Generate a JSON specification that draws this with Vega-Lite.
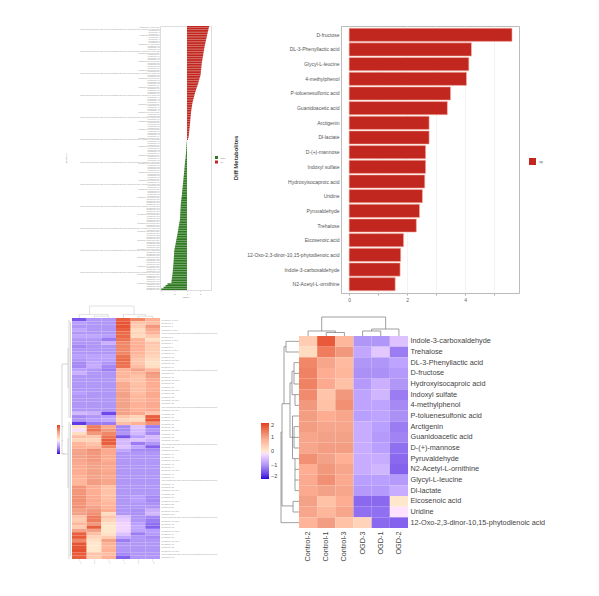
{
"$schema":"https://vega.github.io/schema/vega-lite/v6.json",
"padding":{"left":44,"top":24,"right":0,"bottom":0},
"background":"white",
"config":{"view":{"stroke":null},"font":"Liberation Sans"},
"bounds":"flush",
"spacing":0,
"resolve":{"scale":{"color":"independent"},"legend":{"color":"independent"}},
"datasets":{"blank":[{"k":1}]},
"vconcat":[
{"bounds":"flush","spacing":0,"resolve":{"scale":{"color":"independent"},"legend":{"color":"independent"}},"hconcat":[
 {"width":116,"height":1,"data":{"name":"blank"},"mark":{"type":"point","opacity":0,"size":0}},
 {"width":51,"height":264,
  "title":{"text":"Diff Metabolites","orient":"right","angle":270,"fontSize":6,"fontWeight":"bold","color":"#333","offset":1},
  "view":{"stroke":"#ddd"},
  "data":{"values":[
{"m":0,"g":"up","v":3.38},{"m":1,"g":"up","v":3.32},{"m":2,"g":"up","v":3.27},{"m":3,"g":"up","v":3.2},{"m":4,"g":"up","v":3.15},{"m":5,"g":"up","v":3.08},{"m":6,"g":"up","v":3.03},{"m":7,"g":"up","v":2.97},{"m":8,"g":"up","v":2.91},{"m":9,"g":"up","v":2.85},{"m":10,"g":"up","v":2.8},{"m":11,"g":"up","v":2.74},{"m":12,"g":"up","v":2.69},{"m":13,"g":"up","v":2.64},{"m":14,"g":"up","v":2.6},{"m":15,"g":"up","v":2.55},{"m":16,"g":"up","v":2.51},{"m":17,"g":"up","v":2.47},{"m":18,"g":"up","v":2.42},{"m":19,"g":"up","v":2.38},{"m":20,"g":"up","v":2.33},{"m":21,"g":"up","v":2.29},{"m":22,"g":"up","v":2.25},{"m":23,"g":"up","v":2.23},{"m":24,"g":"up","v":2.2},{"m":25,"g":"up","v":2.17},{"m":26,"g":"up","v":2.14},{"m":27,"g":"up","v":2.12},{"m":28,"g":"up","v":2.1},{"m":29,"g":"up","v":2.03},{"m":30,"g":"up","v":1.95},{"m":31,"g":"up","v":1.88},{"m":32,"g":"up","v":1.8},{"m":33,"g":"up","v":1.74},{"m":34,"g":"up","v":1.65},{"m":35,"g":"up","v":1.56},{"m":36,"g":"up","v":1.47},{"m":37,"g":"up","v":1.38},{"m":38,"g":"up","v":1.3},{"m":39,"g":"up","v":1.23},{"m":40,"g":"up","v":1.15},{"m":41,"g":"up","v":1.08},{"m":42,"g":"up","v":1.01},{"m":43,"g":"up","v":0.95},{"m":44,"g":"up","v":0.88},{"m":45,"g":"up","v":0.82},{"m":46,"g":"up","v":0.78},{"m":47,"g":"up","v":0.74},{"m":48,"g":"up","v":0.7},{"m":49,"g":"up","v":0.66},{"m":50,"g":"up","v":0.63},{"m":51,"g":"up","v":0.6},{"m":52,"g":"up","v":0.58},{"m":53,"g":"up","v":0.55},{"m":54,"g":"up","v":0.53},{"m":55,"g":"up","v":0.5},{"m":56,"g":"up","v":0.48},{"m":57,"g":"up","v":0.46},{"m":58,"g":"up","v":0.43},{"m":59,"g":"up","v":0.41},{"m":60,"g":"up","v":0.38},{"m":61,"g":"up","v":0.35},{"m":62,"g":"up","v":0.33},{"m":63,"g":"up","v":0.3},{"m":64,"g":"up","v":0.27},{"m":65,"g":"up","v":0.22},{"m":66,"g":"up","v":0.15},
{"m":67,"g":"down","v":-0.03},{"m":68,"g":"down","v":-0.05},{"m":69,"g":"down","v":-0.07},{"m":70,"g":"down","v":-0.09},{"m":71,"g":"down","v":-0.11},{"m":72,"g":"down","v":-0.13},{"m":73,"g":"down","v":-0.14},{"m":74,"g":"down","v":-0.15},{"m":75,"g":"down","v":-0.18},{"m":76,"g":"down","v":-0.2},{"m":77,"g":"down","v":-0.23},{"m":78,"g":"down","v":-0.26},{"m":79,"g":"down","v":-0.29},{"m":80,"g":"down","v":-0.32},{"m":81,"g":"down","v":-0.34},{"m":82,"g":"down","v":-0.36},{"m":83,"g":"down","v":-0.39},{"m":84,"g":"down","v":-0.41},{"m":85,"g":"down","v":-0.44},{"m":86,"g":"down","v":-0.46},{"m":87,"g":"down","v":-0.49},{"m":88,"g":"down","v":-0.51},{"m":89,"g":"down","v":-0.54},{"m":90,"g":"down","v":-0.56},{"m":91,"g":"down","v":-0.59},{"m":92,"g":"down","v":-0.62},{"m":93,"g":"down","v":-0.64},{"m":94,"g":"down","v":-0.67},{"m":95,"g":"down","v":-0.7},{"m":96,"g":"down","v":-0.73},{"m":97,"g":"down","v":-0.75},{"m":98,"g":"down","v":-0.77},{"m":99,"g":"down","v":-0.8},{"m":100,"g":"down","v":-0.83},{"m":101,"g":"down","v":-0.86},{"m":102,"g":"down","v":-0.89},{"m":103,"g":"down","v":-0.92},{"m":104,"g":"down","v":-0.95},{"m":105,"g":"down","v":-0.97},{"m":106,"g":"down","v":-0.98},{"m":107,"g":"down","v":-1},{"m":108,"g":"down","v":-1.01},{"m":109,"g":"down","v":-1.03},{"m":110,"g":"down","v":-1.04},{"m":111,"g":"down","v":-1.05},{"m":112,"g":"down","v":-1.07},{"m":113,"g":"down","v":-1.08},{"m":114,"g":"down","v":-1.13},{"m":115,"g":"down","v":-1.18},{"m":116,"g":"down","v":-1.22},{"m":117,"g":"down","v":-1.27},{"m":118,"g":"down","v":-1.31},{"m":119,"g":"down","v":-1.35},{"m":120,"g":"down","v":-1.4},{"m":121,"g":"down","v":-1.44},{"m":122,"g":"down","v":-1.49},{"m":123,"g":"down","v":-1.54},{"m":124,"g":"down","v":-1.59},{"m":125,"g":"down","v":-1.64},{"m":126,"g":"down","v":-1.69},{"m":127,"g":"down","v":-1.74},{"m":128,"g":"down","v":-1.79},{"m":129,"g":"down","v":-1.85},{"m":130,"g":"down","v":-1.9},{"m":131,"g":"down","v":-1.95},{"m":132,"g":"down","v":-1.97},{"m":133,"g":"down","v":-1.98},{"m":134,"g":"down","v":-2},{"m":135,"g":"down","v":-2.02},{"m":136,"g":"down","v":-2.03},{"m":137,"g":"down","v":-2.05},{"m":138,"g":"down","v":-2.07},{"m":139,"g":"down","v":-2.09},{"m":140,"g":"down","v":-2.11},{"m":141,"g":"down","v":-2.13},{"m":142,"g":"down","v":-2.15},{"m":143,"g":"down","v":-2.18},{"m":144,"g":"down","v":-2.2},{"m":145,"g":"down","v":-2.23},{"m":146,"g":"down","v":-2.27},{"m":147,"g":"down","v":-2.3},{"m":148,"g":"down","v":-2.34},{"m":149,"g":"down","v":-2.37},{"m":150,"g":"down","v":-2.4},{"m":151,"g":"down","v":-3},{"m":152,"g":"down","v":-3.3},{"m":153,"g":"down","v":-3.6},{"m":154,"g":"down","v":-3.95}
  ]},
  "mark":{"type":"bar"},
  "encoding":{
   "y":{"field":"m","type":"ordinal","scale":{"paddingInner":0.08,"paddingOuter":0},
    "axis":{"title":"metabolites","titleFontSize":2,"titleFontWeight":"normal","titleColor":"#777","titleX":-94,"titleY":132,"labelFontSize":2,"labelColor":"#999","labelPadding":1,"ticks":false,"domain":false,"labelOverlap":false,"labelLimit":200,
     "labelExpr":"datum.value % 13 == 1 ? 'long compound name with several substituents and a second hydroxy-carboxylic acid part' : datum.value % 5 == 0 ? 'metabolite ' + datum.value + ' acid ester' : 'metabolite ' + datum.value"}},
   "x":{"field":"v","type":"quantitative","scale":{"domain":[-4.15,3.69],"nice":false,"zero":false},
    "axis":{"title":"log2FC","titleFontSize":2,"titleFontWeight":"normal","titleColor":"#777","titlePadding":1,"values":[-4,-2,0,2],"labelFontSize":2,"labelColor":"#777","tickSize":1.5,"tickColor":"#ccc","tickWidth":0.5,"labelPadding":1,"domain":false,"grid":false}},
   "color":{"field":"g","type":"nominal","scale":{"domain":["down","up"],"range":["#2f7a21","#c1271f"]},
    "legend":{"title":null,"orient":"none","legendX":54,"legendY":129,"symbolType":"square","symbolSize":9,"labelFontSize":2,"labelColor":"#777","labelOffset":1.5,"rowPadding":0.5}}
  }
 },
 {"width":130,"height":1,"data":{"name":"blank"},"mark":{"type":"point","opacity":0,"size":0}},
 {"width":178,"height":267,
  "view":{"stroke":"#bbb","strokeWidth":1},
  "data":{"values":[
{"n":"D-fructose","g":"up","v":5.62},{"n":"DL-3-Phenyllactic acid","g":"up","v":4.22},{"n":"Glycyl-L-leucine","g":"up","v":4.13},{"n":"4-methylphenol","g":"up","v":4.05},{"n":"P-toluenesulfonic acid","g":"up","v":3.5},{"n":"Guanidoacetic acid","g":"up","v":3.39},{"n":"Arctigenin","g":"up","v":2.76},{"n":"Dl-lactate","g":"up","v":2.76},{"n":"D-(+)-mannose","g":"up","v":2.64},{"n":"Indoxyl sulfate","g":"up","v":2.64},{"n":"Hydroxyisocaproic acid","g":"up","v":2.61},{"n":"Uridine","g":"up","v":2.53},{"n":"Pyruvaldehyde","g":"up","v":2.43},{"n":"Trehalose","g":"up","v":2.32},{"n":"Eicosenoic acid","g":"up","v":1.88},{"n":"12-Oxo-2,3-dinor-10,15-phytodienoic acid","g":"up","v":1.78},{"n":"Indole-3-carboxaldehyde","g":"up","v":1.76},{"n":"N2-Acetyl-L-ornithine","g":"up","v":1.59}
  ]},
  "mark":{"type":"bar","stroke":"#f6b9ac","strokeWidth":0.6},
  "encoding":{
   "y":{"field":"n","type":"nominal","sort":null,"scale":{"paddingInner":0.1,"paddingOuter":0.15},
    "axis":{"title":null,"labelFontSize":5,"labelColor":"#555","ticks":false,"domain":false,"labelPadding":2,"labelLimit":200}},
   "x":{"field":"v","type":"quantitative","scale":{"domain":[-0.28,5.86],"nice":false,"zero":false},
    "axis":{"title":null,"values":[0,1,2,3,4,5],"labelExpr":"datum.value % 2 == 0 ? datum.label : ''","labelFontSize":5,"labelColor":"#666","tickSize":2,"tickColor":"#aaa","labelPadding":2,"domain":false,"grid":true,"gridColor":"#f3f3f3"}},
   "color":{"field":"g","type":"nominal","scale":{"domain":["up"],"range":["#c1271f"]},
    "legend":{"title":null,"orient":"none","legendX":188,"legendY":132,"symbolType":"square","symbolSize":49,"symbolStrokeWidth":0,"labelFontSize":3.5,"labelColor":"#555","labelOffset":3}}
  }
 }
]},
{"width":1,"height":280,"data":{"name":"blank"},"mark":{"type":"point","opacity":0,"size":0}},
{"bounds":"flush","spacing":0,"hconcat":[
 {"width":28,"height":1,"data":{"name":"blank"},"mark":{"type":"point","opacity":0,"size":0}},
 {"width":88,"height":12,
  "data":{"values":[
{"x":1.2,"x2":4.23,"y":1,"y2":1},{"x":1.2,"x2":1.2,"y":1,"y2":0.3},{"x":4.23,"x2":4.23,"y":1,"y2":0.3},
{"x":0.5,"x2":2.45,"y":0.3,"y2":0.3},{"x":0.5,"x2":0.5,"y":0.3,"y2":0},{"x":2.45,"x2":2.45,"y":0.3,"y2":0.15},{"x":1.5,"x2":2.5,"y":0.15,"y2":0.15},{"x":1.5,"x2":1.5,"y":0.15,"y2":0},{"x":2.5,"x2":2.5,"y":0.15,"y2":0},
{"x":3.5,"x2":5.0,"y":0.3,"y2":0.3},{"x":3.5,"x2":3.5,"y":0.3,"y2":0},{"x":5.0,"x2":5.0,"y":0.3,"y2":0.15},{"x":4.5,"x2":5.5,"y":0.15,"y2":0.15},{"x":4.5,"x2":4.5,"y":0.15,"y2":0},{"x":5.5,"x2":5.5,"y":0.15,"y2":0}
  ]},
  "mark":{"type":"rule","color":"#ccc","strokeWidth":0.6},
  "encoding":{
   "x":{"field":"x","type":"quantitative","scale":{"domain":[0,6],"nice":false},"axis":null},"x2":{"field":"x2"},
   "y":{"field":"y","type":"quantitative","scale":{"domain":[0,1],"nice":false},"axis":null},"y2":{"field":"y2"}
  }
 }
]},
{"width":1,"height":11,"data":{"name":"blank"},"mark":{"type":"point","opacity":0,"size":0}},
{"bounds":"flush","spacing":0,"hconcat":[
 {"width":255,"height":1,"data":{"name":"blank"},"mark":{"type":"point","opacity":0,"size":0}},
 {"width":109,"height":19,
  "data":{"values":[
{"x":1.25,"x2":4.77,"y":19,"y2":19},{"x":1.25,"x2":1.25,"y":19,"y2":5},{"x":4.77,"x2":4.77,"y":19,"y2":7},
{"x":0.5,"x2":2,"y":5,"y2":5},{"x":0.5,"x2":0.5,"y":5,"y2":0},{"x":2,"x2":2,"y":5,"y2":3.5},{"x":1.5,"x2":2.5,"y":3.5,"y2":3.5},{"x":1.5,"x2":1.5,"y":3.5,"y2":0},{"x":2.5,"x2":2.5,"y":3.5,"y2":0},
{"x":4,"x2":5.5,"y":7,"y2":7},{"x":5.5,"x2":5.5,"y":7,"y2":0},{"x":4,"x2":4,"y":7,"y2":5},{"x":3.5,"x2":4.5,"y":5,"y2":5},{"x":3.5,"x2":3.5,"y":5,"y2":0},{"x":4.5,"x2":4.5,"y":5,"y2":0}
  ]},
  "mark":{"type":"rule","color":"#777","strokeWidth":0.7},
  "encoding":{
   "x":{"field":"x","type":"quantitative","scale":{"domain":[0,6],"nice":false},"axis":null},"x2":{"field":"x2"},
   "y":{"field":"y","type":"quantitative","scale":{"domain":[0,19],"nice":false},"axis":null},"y2":{"field":"y2"}
  }
 }
]},
{"width":1,"height":1,"data":{"name":"blank"},"mark":{"type":"point","opacity":0,"size":0}},
{"bounds":"flush","spacing":0,"resolve":{"scale":{"color":"independent"},"legend":{"color":"independent"}},"hconcat":[
 {"width":28,"height":241,
  "data":{"values":[
{"x":18,"x2":18,"y":46,"y2":136},{"x":18,"x2":24,"y":46,"y2":46},{"x":18,"x2":24,"y":136,"y2":136},
{"x":25,"x2":25,"y":2,"y2":100},{"x":25,"x2":25,"y":104,"y2":241},{"x":26.5,"x2":26.5,"y":4,"y2":100},{"x":26.5,"x2":26.5,"y":106,"y2":238},{"x":24,"x2":24,"y":30,"y2":70},{"x":24,"x2":24,"y":120,"y2":170}
  ]},
  "mark":{"type":"rule","color":"#c4c4c4","strokeWidth":0.7},
  "encoding":{
   "x":{"field":"x","type":"quantitative","scale":{"domain":[0,28],"nice":false},"axis":null},"x2":{"field":"x2"},
   "y":{"field":"y","type":"quantitative","scale":{"domain":[241,0],"nice":false},"axis":null},"y2":{"field":"y2"}
  }
 },
 {"width":88,"height":241,
  "data":{"values":[
{"r":0,"s":"S1","v":-1.5},{"r":0,"s":"S2","v":-1},{"r":0,"s":"S3","v":-1},{"r":0,"s":"S4","v":1.7},{"r":0,"s":"S5","v":1.3},{"r":0,"s":"S6","v":0.8},
{"r":1,"s":"S1","v":-0.9},{"r":1,"s":"S2","v":-1},{"r":1,"s":"S3","v":-1},{"r":1,"s":"S4","v":1.8},{"r":1,"s":"S5","v":0.5},{"r":1,"s":"S6","v":0.6},
{"r":2,"s":"S1","v":-1},{"r":2,"s":"S2","v":-1},{"r":2,"s":"S3","v":-1},{"r":2,"s":"S4","v":1.8},{"r":2,"s":"S5","v":0.4},{"r":2,"s":"S6","v":1.1},
{"r":3,"s":"S1","v":-0.8},{"r":3,"s":"S2","v":-1},{"r":3,"s":"S3","v":-1},{"r":3,"s":"S4","v":1.7},{"r":3,"s":"S5","v":0.2},{"r":3,"s":"S6","v":0.9},
{"r":4,"s":"S1","v":-1},{"r":4,"s":"S2","v":-1},{"r":4,"s":"S3","v":-1},{"r":4,"s":"S4","v":1.6},{"r":4,"s":"S5","v":0.3},{"r":4,"s":"S6","v":0.8},
{"r":5,"s":"S1","v":-0.8},{"r":5,"s":"S2","v":-0.8},{"r":5,"s":"S3","v":-0.9},{"r":5,"s":"S4","v":1.6},{"r":5,"s":"S5","v":0.2},{"r":5,"s":"S6","v":0.4},
{"r":6,"s":"S1","v":-1},{"r":6,"s":"S2","v":-1},{"r":6,"s":"S3","v":-1.2},{"r":6,"s":"S4","v":1.5},{"r":6,"s":"S5","v":0.8},{"r":6,"s":"S6","v":0.1},
{"r":7,"s":"S1","v":-1},{"r":7,"s":"S2","v":-1},{"r":7,"s":"S3","v":-0.7},{"r":7,"s":"S4","v":1.3},{"r":7,"s":"S5","v":0.8},{"r":7,"s":"S6","v":0.5},
{"r":8,"s":"S1","v":-1.1},{"r":8,"s":"S2","v":-1},{"r":8,"s":"S3","v":-1},{"r":8,"s":"S4","v":1.3},{"r":8,"s":"S5","v":0.8},{"r":8,"s":"S6","v":0.4},
{"r":9,"s":"S1","v":-1},{"r":9,"s":"S2","v":-1},{"r":9,"s":"S3","v":-1},{"r":9,"s":"S4","v":1.3},{"r":9,"s":"S5","v":0.8},{"r":9,"s":"S6","v":0.4},
{"r":10,"s":"S1","v":-1},{"r":10,"s":"S2","v":-1},{"r":10,"s":"S3","v":-1},{"r":10,"s":"S4","v":1.3},{"r":10,"s":"S5","v":0.75},{"r":10,"s":"S6","v":0.4},
{"r":11,"s":"S1","v":-0.9},{"r":11,"s":"S2","v":-0.85},{"r":11,"s":"S3","v":-0.85},{"r":11,"s":"S4","v":1.5},{"r":11,"s":"S5","v":0.6},{"r":11,"s":"S6","v":0.3},
{"r":12,"s":"S1","v":-1},{"r":12,"s":"S2","v":-0.9},{"r":12,"s":"S3","v":-0.9},{"r":12,"s":"S4","v":1.6},{"r":12,"s":"S5","v":0.5},{"r":12,"s":"S6","v":0.2},
{"r":13,"s":"S1","v":-1.1},{"r":13,"s":"S2","v":-0.8},{"r":13,"s":"S3","v":-1},{"r":13,"s":"S4","v":1.55},{"r":13,"s":"S5","v":0.5},{"r":13,"s":"S6","v":0.1},
{"r":14,"s":"S1","v":-1.1},{"r":14,"s":"S2","v":-0.75},{"r":14,"s":"S3","v":-1.1},{"r":14,"s":"S4","v":1.5},{"r":14,"s":"S5","v":0.6},{"r":14,"s":"S6","v":0.15},
{"r":15,"s":"S1","v":-0.9},{"r":15,"s":"S2","v":-1},{"r":15,"s":"S3","v":-1.2},{"r":15,"s":"S4","v":0.8},{"r":15,"s":"S5","v":1},{"r":15,"s":"S6","v":0.7},
{"r":16,"s":"S1","v":-0.7},{"r":16,"s":"S2","v":-1},{"r":16,"s":"S3","v":-1},{"r":16,"s":"S4","v":0.7},{"r":16,"s":"S5","v":0.7},{"r":16,"s":"S6","v":1.1},
{"r":17,"s":"S1","v":-1},{"r":17,"s":"S2","v":-1},{"r":17,"s":"S3","v":-1},{"r":17,"s":"S4","v":0.75},{"r":17,"s":"S5","v":0.55},{"r":17,"s":"S6","v":1},
{"r":18,"s":"S1","v":-1},{"r":18,"s":"S2","v":-1},{"r":18,"s":"S3","v":-1},{"r":18,"s":"S4","v":0.6},{"r":18,"s":"S5","v":0.55},{"r":18,"s":"S6","v":0.9},
{"r":19,"s":"S1","v":-1},{"r":19,"s":"S2","v":-1},{"r":19,"s":"S3","v":-1},{"r":19,"s":"S4","v":0.9},{"r":19,"s":"S5","v":0.55},{"r":19,"s":"S6","v":0.85},
{"r":20,"s":"S1","v":-1},{"r":20,"s":"S2","v":-1},{"r":20,"s":"S3","v":-1},{"r":20,"s":"S4","v":0.9},{"r":20,"s":"S5","v":0.6},{"r":20,"s":"S6","v":0.85},
{"r":21,"s":"S1","v":-1},{"r":21,"s":"S2","v":-1},{"r":21,"s":"S3","v":-1},{"r":21,"s":"S4","v":0.95},{"r":21,"s":"S5","v":0.6},{"r":21,"s":"S6","v":0.85},
{"r":22,"s":"S1","v":-0.9},{"r":22,"s":"S2","v":-1},{"r":22,"s":"S3","v":-1},{"r":22,"s":"S4","v":1},{"r":22,"s":"S5","v":0.6},{"r":22,"s":"S6","v":0.9},
{"r":23,"s":"S1","v":-1},{"r":23,"s":"S2","v":-1},{"r":23,"s":"S3","v":-1},{"r":23,"s":"S4","v":1},{"r":23,"s":"S5","v":0.7},{"r":23,"s":"S6","v":0.9},
{"r":24,"s":"S1","v":-1},{"r":24,"s":"S2","v":-1},{"r":24,"s":"S3","v":-1},{"r":24,"s":"S4","v":1},{"r":24,"s":"S5","v":0.7},{"r":24,"s":"S6","v":0.85},
{"r":25,"s":"S1","v":-1},{"r":25,"s":"S2","v":-1},{"r":25,"s":"S3","v":-1},{"r":25,"s":"S4","v":1},{"r":25,"s":"S5","v":0.8},{"r":25,"s":"S6","v":0.9},
{"r":26,"s":"S1","v":-1},{"r":26,"s":"S2","v":-1},{"r":26,"s":"S3","v":-1},{"r":26,"s":"S4","v":1},{"r":26,"s":"S5","v":0.8},{"r":26,"s":"S6","v":0.9},
{"r":27,"s":"S1","v":-1},{"r":27,"s":"S2","v":-1},{"r":27,"s":"S3","v":-1},{"r":27,"s":"S4","v":1},{"r":27,"s":"S5","v":0.8},{"r":27,"s":"S6","v":0.9},
{"r":28,"s":"S1","v":-0.6},{"r":28,"s":"S2","v":-0.7},{"r":28,"s":"S3","v":-1.6},{"r":28,"s":"S4","v":1},{"r":28,"s":"S5","v":0.9},{"r":28,"s":"S6","v":0.5},
{"r":29,"s":"S1","v":-1.1},{"r":29,"s":"S2","v":-1},{"r":29,"s":"S3","v":-0.9},{"r":29,"s":"S4","v":0.5},{"r":29,"s":"S5","v":0.3},{"r":29,"s":"S6","v":1.7},
{"r":30,"s":"S1","v":-1},{"r":30,"s":"S2","v":-0.9},{"r":30,"s":"S3","v":-0.8},{"r":30,"s":"S4","v":0.3},{"r":30,"s":"S5","v":0.2},{"r":30,"s":"S6","v":1.8},
{"r":31,"s":"S1","v":-1.7},{"r":31,"s":"S2","v":-1.2},{"r":31,"s":"S3","v":-1.2},{"r":31,"s":"S4","v":0.6},{"r":31,"s":"S5","v":0.8},{"r":31,"s":"S6","v":1.2},
{"r":32,"s":"S1","v":0.1},{"r":32,"s":"S2","v":1.4},{"r":32,"s":"S3","v":0.9},{"r":32,"s":"S4","v":-1.1},{"r":32,"s":"S5","v":-0.5},{"r":32,"s":"S6","v":-1.2},
{"r":33,"s":"S1","v":-0.2},{"r":33,"s":"S2","v":1.5},{"r":33,"s":"S3","v":1.1},{"r":33,"s":"S4","v":-1.1},{"r":33,"s":"S5","v":-0.6},{"r":33,"s":"S6","v":-1},
{"r":34,"s":"S1","v":0.15},{"r":34,"s":"S2","v":1.1},{"r":34,"s":"S3","v":1.3},{"r":34,"s":"S4","v":-1},{"r":34,"s":"S5","v":-0.6},{"r":34,"s":"S6","v":-1.1},
{"r":35,"s":"S1","v":0.6},{"r":35,"s":"S2","v":0.5},{"r":35,"s":"S3","v":1.5},{"r":35,"s":"S4","v":-1.5},{"r":35,"s":"S5","v":-0.9},{"r":35,"s":"S6","v":-0.6},
{"r":36,"s":"S1","v":0.3},{"r":36,"s":"S2","v":0.3},{"r":36,"s":"S3","v":1.7},{"r":36,"s":"S4","v":-0.6},{"r":36,"s":"S5","v":-0.5},{"r":36,"s":"S6","v":-0.7},
{"r":37,"s":"S1","v":0.7},{"r":37,"s":"S2","v":0.5},{"r":37,"s":"S3","v":1.7},{"r":37,"s":"S4","v":-0.6},{"r":37,"s":"S5","v":-1.2},{"r":37,"s":"S6","v":-1},
{"r":38,"s":"S1","v":0.8},{"r":38,"s":"S2","v":0.7},{"r":38,"s":"S3","v":1.3},{"r":38,"s":"S4","v":-0.5},{"r":38,"s":"S5","v":-0.8},{"r":38,"s":"S6","v":-1.4},
{"r":39,"s":"S1","v":1},{"r":39,"s":"S2","v":1.2},{"r":39,"s":"S3","v":0.9},{"r":39,"s":"S4","v":-0.8},{"r":39,"s":"S5","v":-1.1},{"r":39,"s":"S6","v":-1.1},
{"r":40,"s":"S1","v":1},{"r":40,"s":"S2","v":1.1},{"r":40,"s":"S3","v":0.9},{"r":40,"s":"S4","v":-1},{"r":40,"s":"S5","v":-1},{"r":40,"s":"S6","v":-1},
{"r":41,"s":"S1","v":1},{"r":41,"s":"S2","v":1.1},{"r":41,"s":"S3","v":0.9},{"r":41,"s":"S4","v":-1},{"r":41,"s":"S5","v":-1},{"r":41,"s":"S6","v":-1},
{"r":42,"s":"S1","v":0.95},{"r":42,"s":"S2","v":1.1},{"r":42,"s":"S3","v":0.85},{"r":42,"s":"S4","v":-1},{"r":42,"s":"S5","v":-1},{"r":42,"s":"S6","v":-1},
{"r":43,"s":"S1","v":0.9},{"r":43,"s":"S2","v":1},{"r":43,"s":"S3","v":0.95},{"r":43,"s":"S4","v":-1},{"r":43,"s":"S5","v":-1},{"r":43,"s":"S6","v":-1},
{"r":44,"s":"S1","v":0.9},{"r":44,"s":"S2","v":1},{"r":44,"s":"S3","v":0.9},{"r":44,"s":"S4","v":-1},{"r":44,"s":"S5","v":-1},{"r":44,"s":"S6","v":-1},
{"r":45,"s":"S1","v":0.85},{"r":45,"s":"S2","v":1},{"r":45,"s":"S3","v":0.9},{"r":45,"s":"S4","v":-1},{"r":45,"s":"S5","v":-1},{"r":45,"s":"S6","v":-1},
{"r":46,"s":"S1","v":0.85},{"r":46,"s":"S2","v":1},{"r":46,"s":"S3","v":0.95},{"r":46,"s":"S4","v":-1},{"r":46,"s":"S5","v":-1},{"r":46,"s":"S6","v":-1},
{"r":47,"s":"S1","v":0.8},{"r":47,"s":"S2","v":1},{"r":47,"s":"S3","v":0.9},{"r":47,"s":"S4","v":-1},{"r":47,"s":"S5","v":-1},{"r":47,"s":"S6","v":-1},
{"r":48,"s":"S1","v":0.7},{"r":48,"s":"S2","v":1.05},{"r":48,"s":"S3","v":0.95},{"r":48,"s":"S4","v":-1},{"r":48,"s":"S5","v":-1},{"r":48,"s":"S6","v":-1},
{"r":49,"s":"S1","v":0.7},{"r":49,"s":"S2","v":1.05},{"r":49,"s":"S3","v":0.95},{"r":49,"s":"S4","v":-1},{"r":49,"s":"S5","v":-1},{"r":49,"s":"S6","v":-1},
{"r":50,"s":"S1","v":1.15},{"r":50,"s":"S2","v":0.85},{"r":50,"s":"S3","v":0.55},{"r":50,"s":"S4","v":-1},{"r":50,"s":"S5","v":-1},{"r":50,"s":"S6","v":-1},
{"r":51,"s":"S1","v":1.15},{"r":51,"s":"S2","v":0.85},{"r":51,"s":"S3","v":0.55},{"r":51,"s":"S4","v":-1},{"r":51,"s":"S5","v":-1},{"r":51,"s":"S6","v":-1},
{"r":52,"s":"S1","v":1.15},{"r":52,"s":"S2","v":0.85},{"r":52,"s":"S3","v":0.55},{"r":52,"s":"S4","v":-1},{"r":52,"s":"S5","v":-1},{"r":52,"s":"S6","v":-1},
{"r":53,"s":"S1","v":1.2},{"r":53,"s":"S2","v":0.9},{"r":53,"s":"S3","v":0.6},{"r":53,"s":"S4","v":-1},{"r":53,"s":"S5","v":-0.9},{"r":53,"s":"S6","v":-1.1},
{"r":54,"s":"S1","v":1.2},{"r":54,"s":"S2","v":0.9},{"r":54,"s":"S3","v":0.6},{"r":54,"s":"S4","v":-1},{"r":54,"s":"S5","v":-0.9},{"r":54,"s":"S6","v":-1.1},
{"r":55,"s":"S1","v":1.15},{"r":55,"s":"S2","v":0.85},{"r":55,"s":"S3","v":0.7},{"r":55,"s":"S4","v":-1},{"r":55,"s":"S5","v":-1},{"r":55,"s":"S6","v":-1.05},
{"r":56,"s":"S1","v":1.2},{"r":56,"s":"S2","v":1},{"r":56,"s":"S3","v":0.75},{"r":56,"s":"S4","v":-1},{"r":56,"s":"S5","v":-1},{"r":56,"s":"S6","v":-1},
{"r":57,"s":"S1","v":1},{"r":57,"s":"S2","v":1.1},{"r":57,"s":"S3","v":0.85},{"r":57,"s":"S4","v":-1},{"r":57,"s":"S5","v":-1.05},{"r":57,"s":"S6","v":-0.7},
{"r":58,"s":"S1","v":1},{"r":58,"s":"S2","v":1.2},{"r":58,"s":"S3","v":0.2},{"r":58,"s":"S4","v":-1},{"r":58,"s":"S5","v":-1.05},{"r":58,"s":"S6","v":-0.6},
{"r":59,"s":"S1","v":0.5},{"r":59,"s":"S2","v":1.4},{"r":59,"s":"S3","v":0.5},{"r":59,"s":"S4","v":-0.5},{"r":59,"s":"S5","v":-1},{"r":59,"s":"S6","v":-1.1},
{"r":60,"s":"S1","v":0.4},{"r":60,"s":"S2","v":1.4},{"r":60,"s":"S3","v":0.3},{"r":60,"s":"S4","v":-0.4},{"r":60,"s":"S5","v":-1},{"r":60,"s":"S6","v":-1.2},
{"r":61,"s":"S1","v":0.7},{"r":61,"s":"S2","v":1.1},{"r":61,"s":"S3","v":0.1},{"r":61,"s":"S4","v":-0.3},{"r":61,"s":"S5","v":-0.9},{"r":61,"s":"S6","v":-1.3},
{"r":62,"s":"S1","v":0.4},{"r":62,"s":"S2","v":1.7},{"r":62,"s":"S3","v":0.02},{"r":62,"s":"S4","v":-0.3},{"r":62,"s":"S5","v":-0.8},{"r":62,"s":"S6","v":-1.4},
{"r":63,"s":"S1","v":1},{"r":63,"s":"S2","v":1},{"r":63,"s":"S3","v":0.03},{"r":63,"s":"S4","v":-0.3},{"r":63,"s":"S5","v":-0.85},{"r":63,"s":"S6","v":-0.9},
{"r":64,"s":"S1","v":1.7},{"r":64,"s":"S2","v":0.6},{"r":64,"s":"S3","v":0.1},{"r":64,"s":"S4","v":-0.5},{"r":64,"s":"S5","v":-1.2},{"r":64,"s":"S6","v":-0.95},
{"r":65,"s":"S1","v":1.75},{"r":65,"s":"S2","v":0.3},{"r":65,"s":"S3","v":0.4},{"r":65,"s":"S4","v":-0.8},{"r":65,"s":"S5","v":-1},{"r":65,"s":"S6","v":-1.1},
{"r":66,"s":"S1","v":1.3},{"r":66,"s":"S2","v":0.1},{"r":66,"s":"S3","v":1},{"r":66,"s":"S4","v":-1.2},{"r":66,"s":"S5","v":-1},{"r":66,"s":"S6","v":-1},
{"r":67,"s":"S1","v":1.8},{"r":67,"s":"S2","v":0.03},{"r":67,"s":"S3","v":0.8},{"r":67,"s":"S4","v":-1},{"r":67,"s":"S5","v":-1},{"r":67,"s":"S6","v":-1},
{"r":68,"s":"S1","v":1.8},{"r":68,"s":"S2","v":0.02},{"r":68,"s":"S3","v":0.7},{"r":68,"s":"S4","v":-1},{"r":68,"s":"S5","v":-1},{"r":68,"s":"S6","v":-1},
{"r":69,"s":"S1","v":1.85},{"r":69,"s":"S2","v":0.02},{"r":69,"s":"S3","v":0.8},{"r":69,"s":"S4","v":-1},{"r":69,"s":"S5","v":-1},{"r":69,"s":"S6","v":-1},
{"r":70,"s":"S1","v":1.75},{"r":70,"s":"S2","v":0.5},{"r":70,"s":"S3","v":0.6},{"r":70,"s":"S4","v":-1.1},{"r":70,"s":"S5","v":-1},{"r":70,"s":"S6","v":-1},
{"r":71,"s":"S1","v":1.7},{"r":71,"s":"S2","v":0.4},{"r":71,"s":"S3","v":0.8},{"r":71,"s":"S4","v":-1.4},{"r":71,"s":"S5","v":-1},{"r":71,"s":"S6","v":-1}
  ]},
  "mark":{"type":"rect"},
  "encoding":{
   "x":{"field":"s","type":"nominal","scale":{"paddingInner":0,"paddingOuter":0},"axis":{"title":null,"orient":"bottom","labelAngle":270,"labelFontSize":2,"labelColor":"#999","tickSize":1,"tickColor":"#ccc","labelPadding":1,"domain":false}},
   "y":{"field":"r","type":"ordinal","scale":{"paddingInner":0,"paddingOuter":0},"axis":{"title":null,"orient":"right","labelFontSize":2.1,"labelColor":"#999","ticks":false,"domain":false,"labelPadding":1,"labelOverlap":false,"labelLimit":200,
     "labelExpr":"datum.value % 11 == 4 ? 'long compound name with several substituents and acid part' : datum.value % 3 == 0 ? 'metabolite ' + datum.value + ' ester' : 'metabolite ' + datum.value"}},
   "color":{"field":"v","type":"quantitative","scale":{"domain":[-2,-1,0,1,2],"range":["#2a00dd","#b096f6","#ffffff","#f3a288","#e23b1f"]},
    "legend":{"title":null,"orient":"none","legendX":-15,"legendY":107,"direction":"vertical","gradientLength":29,"gradientThickness":3,"labelFontSize":2,"labelColor":"#999","values":[-2,0,2],"gradientStrokeWidth":0}}
  }
 }
]},
{"width":1,"height":18,"data":{"name":"blank"},"mark":{"type":"point","opacity":0,"size":0}},
{"bounds":"flush","spacing":0,"resolve":{"scale":{"color":"independent"},"legend":{"color":"independent"}},"hconcat":[
 {"width":236,"height":1,"data":{"name":"blank"},"mark":{"type":"point","opacity":0,"size":0}},
 {"width":19,"height":192,
  "data":{"values":[
{"x":1,"x2":1,"y":9,"y2":17.5},{"x":1,"x2":19,"y":17.5,"y2":17.5},{"x":1,"x2":2,"y":9,"y2":9},
{"x":2,"x2":2,"y":6.35,"y2":15.93},{"x":2,"x2":13,"y":15.93,"y2":15.93},{"x":13,"x2":13,"y":15.5,"y2":16.5},{"x":13,"x2":19,"y":15.5,"y2":15.5},{"x":13,"x2":19,"y":16.5,"y2":16.5},
{"x":2,"x2":4,"y":6.35,"y2":6.35},{"x":4,"x2":4,"y":1,"y2":6.35},{"x":4,"x2":6,"y":1,"y2":1},{"x":6,"x2":6,"y":0.5,"y2":1.5},{"x":6,"x2":19,"y":0.5,"y2":0.5},{"x":6,"x2":19,"y":1.5,"y2":1.5},
{"x":4,"x2":10,"y":6.35,"y2":6.35},{"x":10,"x2":10,"y":4.4,"y2":9.5},{"x":10,"x2":12,"y":4.4,"y2":4.4},{"x":12,"x2":12,"y":3.3,"y2":5.5},{"x":12,"x2":14,"y":3.3,"y2":3.3},{"x":14,"x2":14,"y":2.5,"y2":4.5},{"x":14,"x2":19,"y":2.5,"y2":2.5},{"x":14,"x2":19,"y":3.5,"y2":3.5},{"x":14,"x2":19,"y":4.5,"y2":4.5},{"x":12,"x2":15,"y":5.5,"y2":5.5},{"x":15,"x2":15,"y":5.5,"y2":6.5},{"x":15,"x2":19,"y":5.5,"y2":5.5},{"x":15,"x2":19,"y":6.5,"y2":6.5},
{"x":10,"x2":12.5,"y":9.5,"y2":9.5},{"x":12.5,"x2":12.5,"y":7.5,"y2":11.5},{"x":12.5,"x2":19,"y":7.5,"y2":7.5},{"x":12.5,"x2":14,"y":9.5,"y2":9.5},{"x":14,"x2":14,"y":8.5,"y2":10.5},{"x":14,"x2":19,"y":8.5,"y2":8.5},{"x":14,"x2":19,"y":9.5,"y2":9.5},{"x":14,"x2":19,"y":10.5,"y2":10.5},{"x":12.5,"x2":15,"y":11.5,"y2":11.5},{"x":15,"x2":15,"y":11.5,"y2":14.5},{"x":15,"x2":19,"y":11.5,"y2":11.5},{"x":15,"x2":19,"y":12.5,"y2":12.5},{"x":15,"x2":19,"y":13.5,"y2":13.5},{"x":15,"x2":19,"y":14.5,"y2":14.5}
  ]},
  "mark":{"type":"rule","color":"#777","strokeWidth":0.7},
  "encoding":{
   "x":{"field":"x","type":"quantitative","scale":{"domain":[0,19],"nice":false},"axis":null},"x2":{"field":"x2"},
   "y":{"field":"y","type":"quantitative","scale":{"domain":[18,0],"nice":false},"axis":null},"y2":{"field":"y2"}
  }
 },
 {"width":109,"height":192,
  "data":{"values":[
{"m":"Indole-3-carboxaldehyde","s":"Control-2","v":0.4},{"m":"Indole-3-carboxaldehyde","s":"Control-1","v":1.75},{"m":"Indole-3-carboxaldehyde","s":"Control-3","v":0.7},{"m":"Indole-3-carboxaldehyde","s":"OGD-3","v":-1},{"m":"Indole-3-carboxaldehyde","s":"OGD-1","v":-1},{"m":"Indole-3-carboxaldehyde","s":"OGD-2","v":-0.5},
{"m":"Trehalose","s":"Control-2","v":0.2},{"m":"Trehalose","s":"Control-1","v":1.4},{"m":"Trehalose","s":"Control-3","v":1.1},{"m":"Trehalose","s":"OGD-3","v":-0.8},{"m":"Trehalose","s":"OGD-1","v":-0.45},{"m":"Trehalose","s":"OGD-2","v":-1.2},
{"m":"DL-3-Phenyllactic acid","s":"Control-2","v":1.3},{"m":"DL-3-Phenyllactic acid","s":"Control-1","v":0.95},{"m":"DL-3-Phenyllactic acid","s":"Control-3","v":0.65},{"m":"DL-3-Phenyllactic acid","s":"OGD-3","v":-1},{"m":"DL-3-Phenyllactic acid","s":"OGD-1","v":-1},{"m":"DL-3-Phenyllactic acid","s":"OGD-2","v":-0.85},
{"m":"D-fructose","s":"Control-2","v":1.35},{"m":"D-fructose","s":"Control-1","v":0.85},{"m":"D-fructose","s":"Control-3","v":0.7},{"m":"D-fructose","s":"OGD-3","v":-1.05},{"m":"D-fructose","s":"OGD-1","v":-1.05},{"m":"D-fructose","s":"OGD-2","v":-0.95},
{"m":"Hydroxyisocaproic acid","s":"Control-2","v":1.35},{"m":"Hydroxyisocaproic acid","s":"Control-1","v":0.9},{"m":"Hydroxyisocaproic acid","s":"Control-3","v":0.55},{"m":"Hydroxyisocaproic acid","s":"OGD-3","v":-0.95},{"m":"Hydroxyisocaproic acid","s":"OGD-1","v":-0.7},{"m":"Hydroxyisocaproic acid","s":"OGD-2","v":-1},
{"m":"Indoxyl sulfate","s":"Control-2","v":1.25},{"m":"Indoxyl sulfate","s":"Control-1","v":0.5},{"m":"Indoxyl sulfate","s":"Control-3","v":1.1},{"m":"Indoxyl sulfate","s":"OGD-3","v":-0.85},{"m":"Indoxyl sulfate","s":"OGD-1","v":-0.65},{"m":"Indoxyl sulfate","s":"OGD-2","v":-1.2},
{"m":"4-methylphenol","s":"Control-2","v":1.1},{"m":"4-methylphenol","s":"Control-1","v":0.55},{"m":"4-methylphenol","s":"Control-3","v":1.2},{"m":"4-methylphenol","s":"OGD-3","v":-0.85},{"m":"4-methylphenol","s":"OGD-1","v":-0.85},{"m":"4-methylphenol","s":"OGD-2","v":-1.1},
{"m":"P-toluenesulfonic acid","s":"Control-2","v":1.05},{"m":"P-toluenesulfonic acid","s":"Control-1","v":0.85},{"m":"P-toluenesulfonic acid","s":"Control-3","v":0.95},{"m":"P-toluenesulfonic acid","s":"OGD-3","v":-0.9},{"m":"P-toluenesulfonic acid","s":"OGD-1","v":-0.85},{"m":"P-toluenesulfonic acid","s":"OGD-2","v":-1.05},
{"m":"Arctigenin","s":"Control-2","v":1.05},{"m":"Arctigenin","s":"Control-1","v":0.95},{"m":"Arctigenin","s":"Control-3","v":0.95},{"m":"Arctigenin","s":"OGD-3","v":-0.75},{"m":"Arctigenin","s":"OGD-1","v":-0.9},{"m":"Arctigenin","s":"OGD-2","v":-1.2},
{"m":"Guanidoacetic acid","s":"Control-2","v":0.95},{"m":"Guanidoacetic acid","s":"Control-1","v":1},{"m":"Guanidoacetic acid","s":"Control-3","v":1},{"m":"Guanidoacetic acid","s":"OGD-3","v":-0.75},{"m":"Guanidoacetic acid","s":"OGD-1","v":-0.95},{"m":"Guanidoacetic acid","s":"OGD-2","v":-1.15},
{"m":"D-(+)-mannose","s":"Control-2","v":0.95},{"m":"D-(+)-mannose","s":"Control-1","v":1.05},{"m":"D-(+)-mannose","s":"Control-3","v":1.05},{"m":"D-(+)-mannose","s":"OGD-3","v":-0.75},{"m":"D-(+)-mannose","s":"OGD-1","v":-0.9},{"m":"D-(+)-mannose","s":"OGD-2","v":-1.3},
{"m":"Pyruvaldehyde","s":"Control-2","v":1.2},{"m":"Pyruvaldehyde","s":"Control-1","v":1},{"m":"Pyruvaldehyde","s":"Control-3","v":0.8},{"m":"Pyruvaldehyde","s":"OGD-3","v":-0.75},{"m":"Pyruvaldehyde","s":"OGD-1","v":-0.75},{"m":"Pyruvaldehyde","s":"OGD-2","v":-1.35},
{"m":"N2-Acetyl-L-ornithine","s":"Control-2","v":0.85},{"m":"N2-Acetyl-L-ornithine","s":"Control-1","v":1.1},{"m":"N2-Acetyl-L-ornithine","s":"Control-3","v":0.95},{"m":"N2-Acetyl-L-ornithine","s":"OGD-3","v":-0.75},{"m":"N2-Acetyl-L-ornithine","s":"OGD-1","v":-0.65},{"m":"N2-Acetyl-L-ornithine","s":"OGD-2","v":-1.4},
{"m":"Glycyl-L-leucine","s":"Control-2","v":0.9},{"m":"Glycyl-L-leucine","s":"Control-1","v":1.2},{"m":"Glycyl-L-leucine","s":"Control-3","v":0.9},{"m":"Glycyl-L-leucine","s":"OGD-3","v":-0.9},{"m":"Glycyl-L-leucine","s":"OGD-1","v":-0.9},{"m":"Glycyl-L-leucine","s":"OGD-2","v":-0.95},
{"m":"Dl-lactate","s":"Control-2","v":0.9},{"m":"Dl-lactate","s":"Control-1","v":1},{"m":"Dl-lactate","s":"Control-3","v":0.95},{"m":"Dl-lactate","s":"OGD-3","v":-0.95},{"m":"Dl-lactate","s":"OGD-1","v":-0.95},{"m":"Dl-lactate","s":"OGD-2","v":-0.75},
{"m":"Eicosenoic acid","s":"Control-2","v":1},{"m":"Eicosenoic acid","s":"Control-1","v":0.55},{"m":"Eicosenoic acid","s":"Control-3","v":0.85},{"m":"Eicosenoic acid","s":"OGD-3","v":-1.35},{"m":"Eicosenoic acid","s":"OGD-1","v":-1.35},{"m":"Eicosenoic acid","s":"OGD-2","v":0.03},
{"m":"Uridine","s":"Control-2","v":0.95},{"m":"Uridine","s":"Control-1","v":0.7},{"m":"Uridine","s":"Control-3","v":0.95},{"m":"Uridine","s":"OGD-3","v":-1.3},{"m":"Uridine","s":"OGD-1","v":-1.3},{"m":"Uridine","s":"OGD-2","v":-0.15},
{"m":"12-Oxo-2,3-dinor-10,15-phytodienoic acid","s":"Control-2","v":0.75},{"m":"12-Oxo-2,3-dinor-10,15-phytodienoic acid","s":"Control-1","v":1.05},{"m":"12-Oxo-2,3-dinor-10,15-phytodienoic acid","s":"Control-3","v":0.55},{"m":"12-Oxo-2,3-dinor-10,15-phytodienoic acid","s":"OGD-3","v":0.3},{"m":"12-Oxo-2,3-dinor-10,15-phytodienoic acid","s":"OGD-1","v":-1.35},{"m":"12-Oxo-2,3-dinor-10,15-phytodienoic acid","s":"OGD-2","v":-1.4}
  ]},
  "mark":{"type":"rect"},
  "encoding":{
   "x":{"field":"s","type":"nominal","sort":null,"scale":{"paddingInner":0,"paddingOuter":0},"axis":{"title":null,"labelAngle":270,"labelFontSize":7.3,"labelColor":"#444","ticks":false,"labelPadding":3,"domain":false}},
   "y":{"field":"m","type":"nominal","sort":null,"scale":{"paddingInner":0,"paddingOuter":0},"axis":{"title":null,"orient":"right","labelFontSize":7.3,"labelColor":"#444","ticks":false,"domain":false,"labelPadding":2,"labelLimit":200}},
   "color":{"field":"v","type":"quantitative","scale":{"domain":[-2,-1,0,1,2],"range":["#2a00dd","#b096f6","#ffffff","#f3a288","#e23b1f"]},
    "legend":{"title":null,"orient":"none","legendX":-38,"legendY":87,"direction":"vertical","gradientLength":56,"gradientThickness":8,"labelFontSize":5.5,"labelColor":"#444","values":[-2,-1,0,1,2],"gradientStrokeWidth":0,"labelOffset":2}}
  }
 }
]}
]
}
